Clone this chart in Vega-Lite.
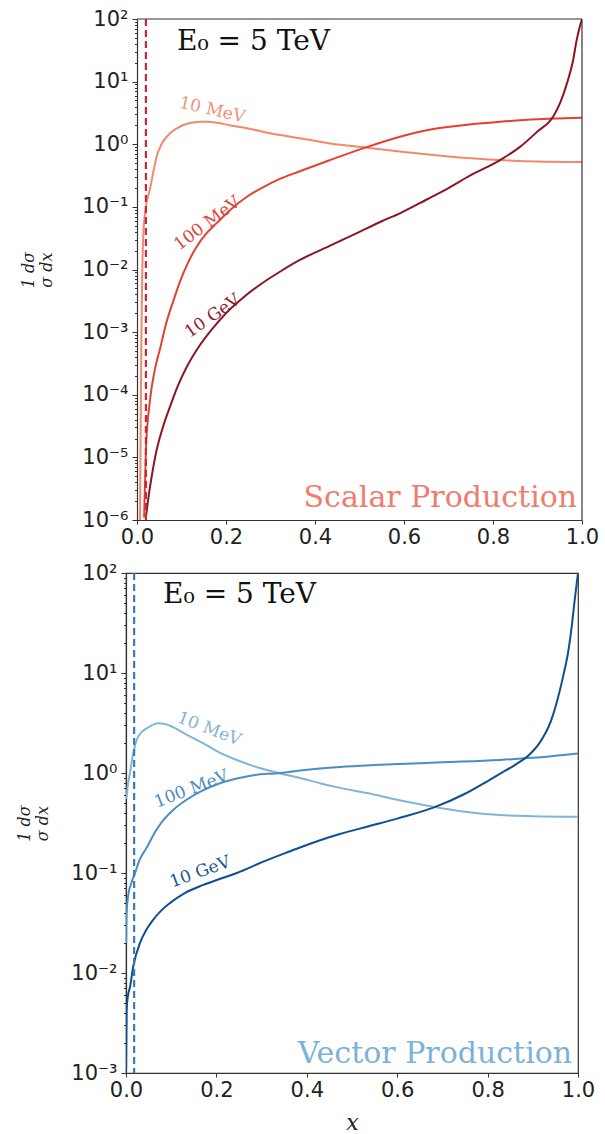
{
  "$schema": "https://vega.github.io/schema/vega-lite/v6.json",
  "background": "white",
  "padding": {"left": 16, "top": 8, "right": 3, "bottom": 2},
  "spacing": 14,
  "resolve": {"scale": {"color": "independent"}},
  "config": {
    "view": {"stroke": "#333", "strokeWidth": 1.2},
    "axis": {
      "labelFont": "DejaVu Sans", "labelFontSize": 21, "labelColor": "#222", "labelFlush": false,
      "domainColor": "#333", "domainWidth": 1.2, "tickColor": "#333", "grid": false,
      "titleFont": "DejaVu Serif", "titleFontWeight": "normal", "titleColor": "#222",
      "labelOverlap": false
    }
  },
  "datasets": {
    "scalar": [
      {"series":"10 MeV","x":0.0068,"y":1e-6},{"series":"10 MeV","x":0.0078,"y":1e-5},{"series":"10 MeV","x":0.0088,"y":1e-4},{"series":"10 MeV","x":0.0098,"y":7e-4},{"series":"10 MeV","x":0.0108,"y":3e-3},{"series":"10 MeV","x":0.012,"y":0.01},{"series":"10 MeV","x":0.0145,"y":0.04},{"series":"10 MeV","x":0.02,"y":0.1},{"series":"10 MeV","x":0.029,"y":0.19},{"series":"10 MeV","x":0.037,"y":0.37},{"series":"10 MeV","x":0.044,"y":0.63},{"series":"10 MeV","x":0.055,"y":1.0},{"series":"10 MeV","x":0.074,"y":1.49},{"series":"10 MeV","x":0.09,"y":1.8},{"series":"10 MeV","x":0.104,"y":2.03},{"series":"10 MeV","x":0.125,"y":2.22},{"series":"10 MeV","x":0.142,"y":2.29},{"series":"10 MeV","x":0.16,"y":2.28},{"series":"10 MeV","x":0.179,"y":2.2},{"series":"10 MeV","x":0.21,"y":2.0},{"series":"10 MeV","x":0.247,"y":1.8},{"series":"10 MeV","x":0.28,"y":1.6},{"series":"10 MeV","x":0.321,"y":1.4},{"series":"10 MeV","x":0.366,"y":1.25},{"series":"10 MeV","x":0.434,"y":1.03},{"series":"10 MeV","x":0.517,"y":0.88},{"series":"10 MeV","x":0.6,"y":0.75},{"series":"10 MeV","x":0.7,"y":0.64},{"series":"10 MeV","x":0.816,"y":0.56},{"series":"10 MeV","x":0.9,"y":0.53},{"series":"10 MeV","x":1.0,"y":0.52},
      {"series":"100 MeV","x":0.016,"y":1.1e-6},{"series":"100 MeV","x":0.02,"y":1.3e-5},{"series":"100 MeV","x":0.029,"y":8e-5},{"series":"100 MeV","x":0.04,"y":2.5e-4},{"series":"100 MeV","x":0.052,"y":5.5e-4},{"series":"100 MeV","x":0.067,"y":1.5e-3},{"series":"100 MeV","x":0.082,"y":3.2e-3},{"series":"100 MeV","x":0.097,"y":6.5e-3},{"series":"100 MeV","x":0.115,"y":0.013},{"series":"100 MeV","x":0.134,"y":0.023},{"series":"100 MeV","x":0.155,"y":0.037},{"series":"100 MeV","x":0.179,"y":0.055},{"series":"100 MeV","x":0.21,"y":0.09},{"series":"100 MeV","x":0.247,"y":0.145},{"series":"100 MeV","x":0.28,"y":0.2},{"series":"100 MeV","x":0.321,"y":0.28},{"series":"100 MeV","x":0.366,"y":0.37},{"series":"100 MeV","x":0.434,"y":0.56},{"series":"100 MeV","x":0.516,"y":0.9},{"series":"100 MeV","x":0.591,"y":1.32},{"series":"100 MeV","x":0.666,"y":1.75},{"series":"100 MeV","x":0.75,"y":2.08},{"series":"100 MeV","x":0.816,"y":2.28},{"series":"100 MeV","x":0.9,"y":2.5},{"series":"100 MeV","x":0.936,"y":2.57},{"series":"100 MeV","x":1.0,"y":2.65},
      {"series":"10 GeV","x":0.02,"y":1.1e-6},{"series":"10 GeV","x":0.025,"y":2.1e-6},{"series":"10 GeV","x":0.035,"y":6e-6},{"series":"10 GeV","x":0.044,"y":1.3e-5},{"series":"10 GeV","x":0.058,"y":3e-5},{"series":"10 GeV","x":0.074,"y":6.4e-5},{"series":"10 GeV","x":0.092,"y":1.4e-4},{"series":"10 GeV","x":0.112,"y":2.8e-4},{"series":"10 GeV","x":0.14,"y":6e-4},{"series":"10 GeV","x":0.171,"y":1.17e-3},{"series":"10 GeV","x":0.2,"y":2.0e-3},{"series":"10 GeV","x":0.231,"y":3.2e-3},{"series":"10 GeV","x":0.27,"y":5.3e-3},{"series":"10 GeV","x":0.321,"y":9.2e-3},{"series":"10 GeV","x":0.366,"y":0.0142},{"series":"10 GeV","x":0.434,"y":0.024},{"series":"10 GeV","x":0.5,"y":0.04},{"series":"10 GeV","x":0.55,"y":0.059},{"series":"10 GeV","x":0.591,"y":0.079},{"series":"10 GeV","x":0.65,"y":0.13},{"series":"10 GeV","x":0.7,"y":0.2},{"series":"10 GeV","x":0.75,"y":0.32},{"series":"10 GeV","x":0.816,"y":0.56},{"series":"10 GeV","x":0.86,"y":0.9},{"series":"10 GeV","x":0.9,"y":1.6},{"series":"10 GeV","x":0.935,"y":2.75},{"series":"10 GeV","x":0.952,"y":4.8},{"series":"10 GeV","x":0.966,"y":9.3},{"series":"10 GeV","x":0.98,"y":22},{"series":"10 GeV","x":0.988,"y":46},{"series":"10 GeV","x":0.995,"y":75},{"series":"10 GeV","x":1.0,"y":100}
    ],
    "vector": [
      {"series":"10 MeV","x":0.001,"y":0.55},{"series":"10 MeV","x":0.004,"y":0.75},{"series":"10 MeV","x":0.0088,"y":1.0},{"series":"10 MeV","x":0.015,"y":1.5},{"series":"10 MeV","x":0.0236,"y":2.14},{"series":"10 MeV","x":0.034,"y":2.55},{"series":"10 MeV","x":0.046,"y":2.8},{"series":"10 MeV","x":0.06,"y":3.05},{"series":"10 MeV","x":0.072,"y":3.15},{"series":"10 MeV","x":0.085,"y":3.1},{"series":"10 MeV","x":0.105,"y":2.86},{"series":"10 MeV","x":0.135,"y":2.4},{"series":"10 MeV","x":0.171,"y":1.98},{"series":"10 MeV","x":0.205,"y":1.62},{"series":"10 MeV","x":0.245,"y":1.35},{"series":"10 MeV","x":0.29,"y":1.14},{"series":"10 MeV","x":0.341,"y":0.99},{"series":"10 MeV","x":0.385,"y":0.89},{"series":"10 MeV","x":0.429,"y":0.79},{"series":"10 MeV","x":0.473,"y":0.71},{"series":"10 MeV","x":0.533,"y":0.63},{"series":"10 MeV","x":0.6,"y":0.54},{"series":"10 MeV","x":0.68,"y":0.46},{"series":"10 MeV","x":0.75,"y":0.41},{"series":"10 MeV","x":0.827,"y":0.38},{"series":"10 MeV","x":0.9,"y":0.37},{"series":"10 MeV","x":1.0,"y":0.365},
      {"series":"100 MeV","x":0.0005,"y":0.02},{"series":"100 MeV","x":0.0015,"y":0.04},{"series":"100 MeV","x":0.005,"y":0.06},{"series":"100 MeV","x":0.012,"y":0.08},{"series":"100 MeV","x":0.02,"y":0.1},{"series":"100 MeV","x":0.03,"y":0.135},{"series":"100 MeV","x":0.046,"y":0.18},{"series":"100 MeV","x":0.065,"y":0.26},{"series":"100 MeV","x":0.083,"y":0.34},{"series":"100 MeV","x":0.105,"y":0.43},{"series":"100 MeV","x":0.134,"y":0.54},{"series":"100 MeV","x":0.17,"y":0.67},{"series":"100 MeV","x":0.208,"y":0.79},{"series":"100 MeV","x":0.245,"y":0.88},{"series":"100 MeV","x":0.282,"y":0.95},{"series":"100 MeV","x":0.341,"y":1.0},{"series":"100 MeV","x":0.385,"y":1.06},{"series":"100 MeV","x":0.429,"y":1.11},{"series":"100 MeV","x":0.473,"y":1.15},{"series":"100 MeV","x":0.55,"y":1.2},{"series":"100 MeV","x":0.606,"y":1.23},{"series":"100 MeV","x":0.7,"y":1.28},{"series":"100 MeV","x":0.827,"y":1.35},{"series":"100 MeV","x":0.9,"y":1.42},{"series":"100 MeV","x":1.0,"y":1.57},
      {"series":"10 GeV","x":0.0003,"y":1.1e-3},{"series":"10 GeV","x":0.0015,"y":4.3e-3},{"series":"10 GeV","x":0.004,"y":5.8e-3},{"series":"10 GeV","x":0.009,"y":7.3e-3},{"series":"10 GeV","x":0.016,"y":0.0116},{"series":"10 GeV","x":0.031,"y":0.02},{"series":"10 GeV","x":0.045,"y":0.027},{"series":"10 GeV","x":0.06,"y":0.034},{"series":"10 GeV","x":0.08,"y":0.043},{"series":"10 GeV","x":0.097,"y":0.05},{"series":"10 GeV","x":0.13,"y":0.063},{"series":"10 GeV","x":0.171,"y":0.076},{"series":"10 GeV","x":0.21,"y":0.088},{"series":"10 GeV","x":0.245,"y":0.1},{"series":"10 GeV","x":0.304,"y":0.13},{"series":"10 GeV","x":0.355,"y":0.16},{"series":"10 GeV","x":0.385,"y":0.18},{"series":"10 GeV","x":0.473,"y":0.245},{"series":"10 GeV","x":0.533,"y":0.29},{"series":"10 GeV","x":0.6,"y":0.35},{"series":"10 GeV","x":0.68,"y":0.45},{"series":"10 GeV","x":0.75,"y":0.62},{"series":"10 GeV","x":0.8,"y":0.83},{"series":"10 GeV","x":0.827,"y":0.98},{"series":"10 GeV","x":0.86,"y":1.2},{"series":"10 GeV","x":0.894,"y":1.55},{"series":"10 GeV","x":0.915,"y":2.0},{"series":"10 GeV","x":0.94,"y":3.3},{"series":"10 GeV","x":0.955,"y":5.5},{"series":"10 GeV","x":0.967,"y":9.2},{"series":"10 GeV","x":0.978,"y":16},{"series":"10 GeV","x":0.986,"y":29},{"series":"10 GeV","x":0.993,"y":55},{"series":"10 GeV","x":1.0,"y":100}
    ]
  },
  "vconcat": [
    {
      "width": 456, "height": 501,
      "view": {"stroke": null},
      "layer": [
        {
          "data": {"name": "scalar"},
          "mark": {"type": "line", "strokeWidth": 2, "clip": true, "interpolate": "monotone"},
          "encoding": {
            "x": {"field": "x", "type": "quantitative", "scale": {"domain": [0, 1], "range": [11, 456], "nice": false, "zero": false, "padding": 0},
              "axis": {"values": [0, 0.2, 0.4, 0.6, 0.8, 1.0], "format": ".1f", "title": null, "tickSize": 4, "labelPadding": 2}},
            "y": {"field": "y", "type": "quantitative", "scale": {"type": "log", "domain": [1e-6, 100], "nice": false, "padding": 0},
              "axis": {
                "offset": -11,
                "values": [1e-6,2e-6,3e-6,4e-6,5e-6,6e-6,7e-6,8e-6,9e-6,1e-5,2e-5,3e-5,4e-5,5e-5,6e-5,7e-5,8e-5,9e-5,1e-4,2e-4,3e-4,4e-4,5e-4,6e-4,7e-4,8e-4,9e-4,1e-3,2e-3,3e-3,4e-3,5e-3,6e-3,7e-3,8e-3,9e-3,0.01,0.02,0.03,0.04,0.05,0.06,0.07,0.08,0.09,0.1,0.2,0.3,0.4,0.5,0.6,0.7,0.8,0.9,1,2,3,4,5,6,7,8,9,10,20,30,40,50,60,70,80,90,100],
                "labelExpr": "abs(log(datum.value)/LN10 - round(log(datum.value)/LN10)) < 0.001 ? ['10⁻⁶','10⁻⁵','10⁻⁴','10⁻³','10⁻²','10⁻¹','10⁰','10¹','10²'][round(log(datum.value)/LN10)+6] : ''",
                "tickSize": {"condition": {"test": "abs(log(datum.value)/LN10 - round(log(datum.value)/LN10)) < 0.001", "value": 5}, "value": 2.5},
                "labelPadding": 4,
                "title": ["1 dσ", "σ dx"], "titleFontSize": 16, "titleFontStyle": "italic", "titlePadding": 27, "titleAngle": -90
              }},
            "color": {"field": "series", "type": "nominal", "scale": {"domain": ["10 MeV", "100 MeV", "10 GeV"], "range": ["#f4886c", "#e2412f", "#8e1424"]}, "legend": null},
            "detail": {"field": "series"}
          }
        },
        {
          "data": {"values": [{"x": 1.0}]},
          "mark": {"type": "rule", "color": "#333", "strokeWidth": 1.2},
          "encoding": {"x": {"field": "x", "type": "quantitative", "scale": {"domain": [0, 1], "range": [11, 456], "nice": false, "zero": false, "padding": 0}}}
        },
        {
          "data": {"values": [{"x": 0, "x2": 1, "y": 100}]},
          "mark": {"type": "rule", "color": "#333", "strokeWidth": 1.2},
          "encoding": {
            "x": {"field": "x", "type": "quantitative", "scale": {"domain": [0, 1], "range": [11, 456], "nice": false, "zero": false, "padding": 0}},
            "x2": {"field": "x2"},
            "y": {"field": "y", "type": "quantitative", "scale": {"type": "log", "domain": [1e-6, 100], "nice": false, "padding": 0}}
          }
        },
        {
          "data": {"values": [{"x": 0.02}]},
          "mark": {"type": "rule", "color": "#c9283a", "strokeWidth": 2.2, "strokeDash": [7, 4]},
          "encoding": {"x": {"field": "x", "type": "quantitative", "scale": {"domain": [0, 1], "range": [11, 456], "nice": false, "zero": false, "padding": 0}}}
        },
        {
          "data": {"values": [{"label": "10 MeV", "x": 0.169, "y": 3.5}]},
          "mark": {"type": "text", "font": "DejaVu Serif", "fontSize": 17, "angle": 13, "color": "#f3907a", "align": "center", "baseline": "middle"},
          "encoding": {"x": {"field": "x", "type": "quantitative"}, "y": {"field": "y", "type": "quantitative"}, "text": {"field": "label"}}
        },
        {
          "data": {"values": [{"label": "100 MeV", "x": 0.158, "y": 0.0545}]},
          "mark": {"type": "text", "font": "DejaVu Serif", "fontSize": 17, "angle": -37, "color": "#dc4535", "align": "center", "baseline": "middle"},
          "encoding": {"x": {"field": "x", "type": "quantitative"}, "y": {"field": "y", "type": "quantitative"}, "text": {"field": "label"}}
        },
        {
          "data": {"values": [{"label": "10 GeV", "x": 0.17, "y": 0.0018}]},
          "mark": {"type": "text", "font": "DejaVu Serif", "fontSize": 17, "angle": -35, "color": "#8c1a2b", "align": "center", "baseline": "middle"},
          "encoding": {"x": {"field": "x", "type": "quantitative"}, "y": {"field": "y", "type": "quantitative"}, "text": {"field": "label"}}
        },
        {
          "data": {"values": [{"label": "E₀ = 5 TeV", "x": 0.09, "y": 32}]},
          "mark": {"type": "text", "font": "DejaVu Serif", "fontSize": 28, "color": "#111", "align": "left", "baseline": "alphabetic"},
          "encoding": {"x": {"field": "x", "type": "quantitative"}, "y": {"field": "y", "type": "quantitative"}, "text": {"field": "label"}}
        },
        {
          "data": {"values": [{"label": "Scalar Production", "x": 0.989, "y": 1.6e-6}]},
          "mark": {"type": "text", "font": "DejaVu Serif", "fontSize": 30, "color": "#ef7d6d", "align": "right", "baseline": "alphabetic"},
          "encoding": {"x": {"field": "x", "type": "quantitative"}, "y": {"field": "y", "type": "quantitative"}, "text": {"field": "label"}}
        }
      ]
    },
    {
      "width": 452, "height": 500,
      "layer": [
        {
          "data": {"name": "vector"},
          "mark": {"type": "line", "strokeWidth": 2, "clip": true, "interpolate": "monotone"},
          "encoding": {
            "x": {"field": "x", "type": "quantitative", "scale": {"domain": [0, 1], "nice": false, "zero": false, "padding": 0},
              "axis": {"values": [0, 0.2, 0.4, 0.6, 0.8, 1.0], "format": ".1f", "title": "x", "titleFontSize": 22, "titleFontStyle": "italic", "titlePadding": 12, "tickSize": 4, "labelPadding": 2}},
            "y": {"field": "y", "type": "quantitative", "scale": {"type": "log", "domain": [1e-3, 100], "nice": false, "padding": 0},
              "axis": {
                "values": [1e-3,2e-3,3e-3,4e-3,5e-3,6e-3,7e-3,8e-3,9e-3,0.01,0.02,0.03,0.04,0.05,0.06,0.07,0.08,0.09,0.1,0.2,0.3,0.4,0.5,0.6,0.7,0.8,0.9,1,2,3,4,5,6,7,8,9,10,20,30,40,50,60,70,80,90,100],
                "labelExpr": "abs(log(datum.value)/LN10 - round(log(datum.value)/LN10)) < 0.001 ? ['10⁻³','10⁻²','10⁻¹','10⁰','10¹','10²'][round(log(datum.value)/LN10)+3] : ''",
                "tickSize": {"condition": {"test": "abs(log(datum.value)/LN10 - round(log(datum.value)/LN10)) < 0.001", "value": 5}, "value": 2.5},
                "labelPadding": 4,
                "title": ["1 dσ", "σ dx"], "titleFontSize": 16, "titleFontStyle": "italic", "titlePadding": 20, "titleAngle": -90
              }},
            "color": {"field": "series", "type": "nominal", "scale": {"domain": ["10 MeV", "100 MeV", "10 GeV"], "range": ["#80b5d9", "#4a8fc4", "#0f4f90"]}, "legend": null},
            "detail": {"field": "series"}
          }
        },
        {
          "data": {"values": [{"x": 0.018}]},
          "mark": {"type": "rule", "color": "#3b7bb8", "strokeWidth": 2.2, "strokeDash": [7, 4]},
          "encoding": {"x": {"field": "x", "type": "quantitative", "scale": {"domain": [0, 1], "nice": false, "zero": false, "padding": 0}}}
        },
        {
          "data": {"values": [{"label": "10 MeV", "x": 0.184, "y": 2.75}]},
          "mark": {"type": "text", "font": "DejaVu Serif", "fontSize": 17, "angle": 21, "color": "#85b3d6", "align": "center", "baseline": "middle"},
          "encoding": {"x": {"field": "x", "type": "quantitative"}, "y": {"field": "y", "type": "quantitative"}, "text": {"field": "label"}}
        },
        {
          "data": {"values": [{"label": "100 MeV", "x": 0.145, "y": 0.69}]},
          "mark": {"type": "text", "font": "DejaVu Serif", "fontSize": 17, "angle": -21, "color": "#4a8cc0", "align": "center", "baseline": "middle"},
          "encoding": {"x": {"field": "x", "type": "quantitative"}, "y": {"field": "y", "type": "quantitative"}, "text": {"field": "label"}}
        },
        {
          "data": {"values": [{"label": "10 GeV", "x": 0.164, "y": 0.102}]},
          "mark": {"type": "text", "font": "DejaVu Serif", "fontSize": 17, "angle": -20, "color": "#1a5592", "align": "center", "baseline": "middle"},
          "encoding": {"x": {"field": "x", "type": "quantitative"}, "y": {"field": "y", "type": "quantitative"}, "text": {"field": "label"}}
        },
        {
          "data": {"values": [{"label": "E₀ = 5 TeV", "x": 0.082, "y": 50}]},
          "mark": {"type": "text", "font": "DejaVu Serif", "fontSize": 28, "color": "#111", "align": "left", "baseline": "alphabetic"},
          "encoding": {"x": {"field": "x", "type": "quantitative"}, "y": {"field": "y", "type": "quantitative"}, "text": {"field": "label"}}
        },
        {
          "data": {"values": [{"label": "Vector Production", "x": 0.987, "y": 1.26e-3}]},
          "mark": {"type": "text", "font": "DejaVu Serif", "fontSize": 30, "color": "#7ab2d8", "align": "right", "baseline": "alphabetic"},
          "encoding": {"x": {"field": "x", "type": "quantitative"}, "y": {"field": "y", "type": "quantitative"}, "text": {"field": "label"}}
        }
      ]
    }
  ]
}
